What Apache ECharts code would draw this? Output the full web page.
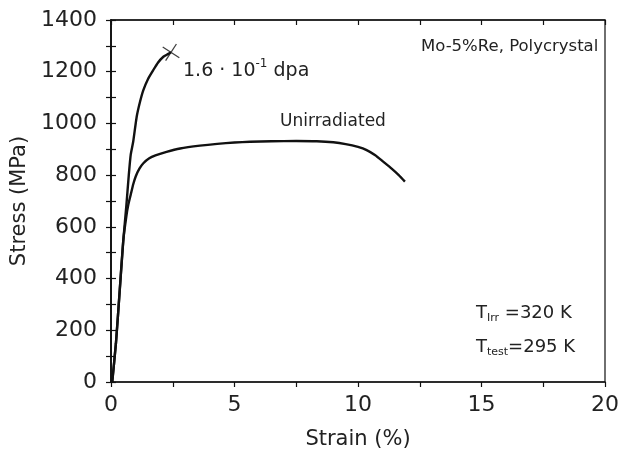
<!DOCTYPE html>
<html><head><meta charset="utf-8">
<script src="https://cdn.jsdelivr.net/npm/echarts@6/dist/echarts.min.js"></script>
<style>html,body{margin:0;padding:0;background:#fff}#c{width:618px;height:450px}</style>
</head><body><div id="c"></div>
<script>
const strainUnirr = [0.05, 0.2, 0.35, 0.5, 0.62, 0.7, 0.8, 0.9, 1.0, 1.15, 1.31, 1.55, 1.8, 2.25, 2.8, 3.6, 4.3, 5.0, 5.63, 6.5, 7.5, 8.33, 9.0, 9.5, 10.0, 10.35, 10.7, 11.02, 11.35, 11.65, 11.9];
const stressUnirr = [0, 150, 350, 550, 640, 685, 725, 765, 795, 825, 846, 865, 876, 890, 903, 914, 921, 926, 929, 931, 932, 931, 927, 920, 909, 897, 877, 852, 826, 800, 775];
const strainIrr = [0.05, 0.2, 0.35, 0.5, 0.62, 0.72, 0.8, 0.9, 1.04, 1.17, 1.31, 1.5, 1.71, 1.9, 2.12, 2.3, 2.43];
const stressIrr = [0, 150, 350, 550, 680, 800, 880, 930, 1026, 1082, 1129, 1172, 1206, 1235, 1258, 1268, 1275];
const xTicks = [0, 5, 10, 15, 20];
const yTicks = [0, 200, 400, 600, 800, 1000, 1200, 1400];

const FONT = 'DejaVu Sans';
const TXT = '#222';
const zip = (a, b) => a.map((v, i) => [v, b[i]]);
const irr = zip(strainIrr, stressIrr);
const unirr = zip(strainUnirr, stressUnirr);

const baseX = {
  type: 'value', min: 0, max: 20, interval: 2.5,
  axisLine: {show: true, onZero: false, lineStyle: {color: '#111', width: 1.5}},
  splitLine: {show: false}
};
const baseY = {
  type: 'value', min: 0, max: 1400, interval: 100,
  axisLine: {show: true, onZero: false, lineStyle: {color: '#111', width: 1.5}},
  splitLine: {show: false}
};

const chart = echarts.init(document.getElementById('c'));
chart.setOption({
  animation: false,
  backgroundColor: '#fff',
  grid: {left: 111, right: 13, top: 20, bottom: 68, containLabel: false, outerBoundsMode: 'none',
    show: true, borderColor: '#111', borderWidth: 1.2},
  xAxis: [
    Object.assign({}, baseX, {
      name: 'Strain (%)', nameLocation: 'middle', nameGap: 47,
      nameTextStyle: {fontFamily: FONT, fontSize: 21, color: TXT},
      axisTick: {show: true, inside: false, length: 5, lineStyle: {color: '#111', width: 1.2}},
      axisLabel: {fontFamily: FONT, fontSize: 22, color: TXT, margin: 12,
        formatter: v => (xTicks.indexOf(v) >= 0 ? String(v) : '')}
    }),
    Object.assign({}, baseX, {
      axisTick: {show: true, inside: true, length: 5, lineStyle: {color: '#111', width: 1.2}},
      axisLabel: {show: false}
    })
  ],
  yAxis: [
    Object.assign({}, baseY, {
      name: 'Stress (MPa)', nameLocation: 'middle', nameGap: 80,
      nameTextStyle: {fontFamily: FONT, fontSize: 21, color: TXT},
      axisTick: {show: true, inside: false, length: 5, lineStyle: {color: '#111', width: 1.2}},
      axisLabel: {fontFamily: FONT, fontSize: 22, color: TXT, margin: 14,
        formatter: v => (yTicks.indexOf(v) >= 0 ? String(v) : '')}
    }),
    Object.assign({}, baseY, {
      position: 'left',
      axisTick: {show: true, inside: true, length: 5, lineStyle: {color: '#111', width: 1.2}},
      axisLabel: {show: false}
    })
  ],
  series: [
    {type: 'line', data: unirr, smooth: 0.2, showSymbol: false,
      lineStyle: {color: '#111', width: 2.4}},
    {type: 'line', data: irr, smooth: 0.2, showSymbol: false,
      lineStyle: {color: '#111', width: 2.4}},
    {type: 'scatter', data: [irr[irr.length - 1]],
      symbol: 'path://M0,0L10,10M10,0L0,10', symbolSize: 14, symbolRotate: 12,
      itemStyle: {color: 'none', borderColor: '#111', borderWidth: 1.3}}
  ],
  graphic: [
    {type: 'text', left: 183, top: 58, style: {
      rich: {
        n: {fontFamily: FONT, fontSize: 19, fill: TXT},
        s: {fontFamily: FONT, fontSize: 12, fill: TXT, verticalAlign: 'top', padding: [0, 0, 14, 0]}
      },
      text: '{n|1.6 \u00b7 10}{s|-1}{n| dpa}'
    }},
    {type: 'text', left: 280, top: 113, style: {text: 'Unirradiated', fontFamily: FONT, fontSize: 17, fill: TXT}},
    {type: 'text', left: 421, top: 38, style: {text: 'Mo-5%Re, Polycrystal', fontFamily: FONT, fontSize: 16.5, fill: TXT}},
    {type: 'text', left: 476, top: 304, style: {
      rich: {
        n: {fontFamily: FONT, fontSize: 18, fill: TXT},
        s: {fontFamily: FONT, fontSize: 11, fill: TXT, padding: [10, 0, 0, 0]}
      },
      text: '{n|T}{s|Irr}{n| =320 K}'
    }},
    {type: 'text', left: 476, top: 338, style: {
      rich: {
        n: {fontFamily: FONT, fontSize: 18, fill: TXT},
        s: {fontFamily: FONT, fontSize: 11, fill: TXT, padding: [10, 0, 0, 0]}
      },
      text: '{n|T}{s|test}{n|=295 K}'
    }}
  ]
});
</script></body></html>
